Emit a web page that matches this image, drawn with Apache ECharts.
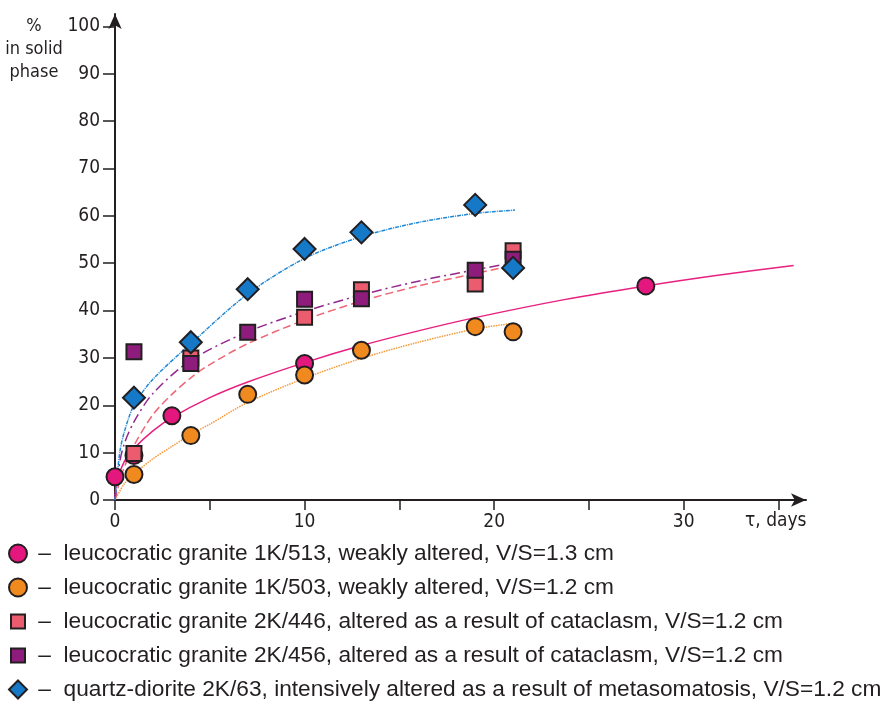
<!DOCTYPE html>
<html>
<head>
<meta charset="utf-8">
<script src="https://cdn.jsdelivr.net/npm/echarts@6.0.0/dist/echarts.min.js"></script>
<style>
  html, body { margin: 0; padding: 0; background: #fff; }
  #chart { width: 890px; height: 703px; }
</style>
</head>
<body>
<div id="chart"></div>
<script>
// measured points (days, % in solid phase)
const names = [
  "leucocratic granite 1K/513, weakly altered, V/S=1.3 cm",
  "leucocratic granite 1K/503, weakly altered, V/S=1.2 cm",
  "leucocratic granite 2K/446, altered as a result of cataclasm, V/S=1.2 cm",
  "leucocratic granite 2K/456, altered as a result of cataclasm, V/S=1.2 cm",
  "quartz-diorite 2K/63, intensively altered as a result of metasomatosis, V/S=1.2 cm",
];
const days513 = [0, 1, 3, 10, 28];
const pct513 = [4.9, 9.4, 17.8, 28.8, 45.2];
const days503 = [1, 4, 7, 10, 13, 19, 21];
const pct503 = [5.4, 13.6, 22.3, 26.4, 31.6, 36.6, 35.5];
const days446 = [1, 4, 10, 13, 19, 21];
const pct446 = [9.8, 30.0, 38.6, 44.4, 45.6, 52.6];
const days456 = [1, 4, 7, 10, 13, 19, 21];
const pct456 = [31.3, 28.8, 35.4, 42.4, 42.5, 48.5, 50.8];
const days63 = [1, 4, 7, 10, 13, 19, 21];
const pct63 = [21.6, 33.3, 44.5, 53.0, 56.5, 62.3, 49.0];

// fitted curves
const fit513 = [[0, 0], [0.1, 4], [0.5, 8.2], [1, 10.9], [2, 14.6], [3, 17.4], [5, 21.6], [7, 24.9], [10, 29], [13, 32.6], [16, 35.7], [19, 38.5], [23.7, 42.3], [28, 45.2], [31.9, 47.5], [35.8, 49.5]];
const fit503 = [[0, 0], [0.5, 3.5], [1, 5.5], [2, 8.7], [3, 11.3], [4, 13.8], [5, 16.0], [7, 20.6], [10, 25.7], [13, 29.9], [16, 33.3], [19, 36.1], [21, 37.3]];
const fit446 = [[0, 0], [0.25, 4], [0.5, 7], [1, 11.5], [2, 18], [3, 22.3], [4, 25.8], [5, 28.6], [7, 33], [10, 38], [13, 42], [16, 45.2], [19, 47.8], [20.6, 49.2]];
const fit456 = [[0, 0], [0.25, 8], [0.5, 12], [1, 16.5], [2, 22.5], [4, 29.5], [7, 35.5], [10, 39.8], [13, 43.3], [16, 46.2], [19, 48.6], [20.5, 49.7]];
const fit63 = [[0, 0], [0.25, 10], [0.5, 14.5], [1, 20], [2, 25.5], [4, 33], [7, 43.5], [10, 51], [13, 55.6], [16, 58.6], [19, 60.5], [21.1, 61.2]];

const xTicks = [0, 5, 10, 15, 20, 25, 30, 35];
const xLabels = [0, 10, 20, 30];
const yTicks = [0, 10, 20, 30, 40, 50, 60, 70, 80, 90, 100];

const ink = "#231f20";
const axisFont = "'DejaVu Sans Condensed', 'Liberation Sans', sans-serif";

const pairs = (xs, ys) => xs.map((x, i) => [x, ys[i]]);

const markerStyle = (color) => ({ color: color, borderColor: ink, borderWidth: 2, opacity: 1 });

const fitLine = (data, color, type) => ({
  type: "line",
  data: data,
  smooth: 0.3,
  showSymbol: false,
  silent: true,
  z: 1,
  lineStyle: { color: color, width: 1.5, type: type },
});

const chart = echarts.init(document.getElementById("chart"));

const options = {
  animation: false,
  grid: {
    left: 115,
    right: 84,
    top: 14,
    bottom: 203,
    containLabel: false,
    outerBoundsMode: "none",
  },
  legend: {
    orient: "vertical",
    left: 8,
    top: 542,
    height: 161,
    padding: 0,
    itemWidth: 18,
    itemHeight: 18,
    itemGap: 11,
    selectedMode: false,
    data: [
      { name: names[0] },
      { name: names[1] },
      { name: names[2], icon: "path://M0,0M18,18M2,2H16V16H2Z" },
      { name: names[3], icon: "path://M0,0M18,18M2,2H16V16H2Z" },
      { name: names[4] },
    ],
    formatter: (name) => " \u2013  " + name,
    textStyle: {
      fontFamily: "'Liberation Sans', Arial, sans-serif",
      fontSize: 22.7,
      lineHeight: 20,
      color: ink,
    },
  },
  xAxis: {
    type: "value",
    min: 0,
    max: 36.45,
    interval: 5,
    splitLine: { show: false },
    axisLine: {
      onZero: false,
      lineStyle: { color: ink, width: 2 },
      symbol: ["none", "arrow"],
      symbolSize: [10, 15],
    },
    axisTick: {
      inside: false,
      length: 10,
      lineStyle: { color: ink, width: 1.5 },
      customValues: xTicks,
    },
    axisLabel: {
      margin: 13,
      color: ink,
      fontFamily: axisFont,
      fontSize: 19,
      customValues: xLabels,
      formatter: (v) => (v % 10 === 0 ? String(v) : ""),
    },
  },
  yAxis: {
    type: "value",
    min: 0,
    max: 102.6,
    interval: 10,
    splitLine: { show: false },
    axisLine: {
      onZero: false,
      lineStyle: { color: ink, width: 2 },
      symbol: ["none", "arrow"],
      symbolSize: [10, 15],
    },
    axisTick: {
      length: 12,
      lineStyle: { color: ink, width: 1.5 },
      customValues: yTicks,
    },
    axisLabel: {
      margin: 15,
      color: ink,
      fontFamily: axisFont,
      fontSize: 19,
      customValues: yTicks,
      formatter: (v) => (v <= 100 ? String(v) : ""),
    },
  },
  graphic: [
    {
      type: "text",
      x: 34,
      y: 15,
      style: {
        text: "%\nin solid\nphase",
        font: "18px " + axisFont,
        fill: ink,
        align: "center",
        textAlign: "center",
        lineHeight: 23,
      },
    },
    {
      type: "text",
      x: 745,
      y: 512,
      style: {
        text: "\u03c4, days",
        font: "19px " + axisFont,
        fill: ink,
      },
    },
  ],
  series: [
    fitLine(fit513, "#e8207f", "solid"),
    fitLine(fit503, "#f39a3a", [1.5, 1]),
    fitLine(fit446, "#ef6675", [8, 4]),
    fitLine(fit456, "#93278f", [10, 4, 2, 4]),
    fitLine(fit63, "#1e88d8", [4, 1, 1, 1]),
    {
      name: names[0],
      type: "scatter",
      data: pairs(days513, pct513),
      symbol: "circle",
      symbolSize: 17,
      itemStyle: markerStyle("#e4177e"),
      z: 3,
    },
    {
      name: names[1],
      type: "scatter",
      data: pairs(days503, pct503),
      symbol: "circle",
      symbolSize: 17,
      itemStyle: markerStyle("#f18a1e"),
      z: 3,
    },
    {
      name: names[2],
      type: "scatter",
      data: pairs(days446, pct446),
      symbol: "rect",
      symbolSize: 15,
      itemStyle: markerStyle("#eb5d6e"),
      z: 3,
    },
    {
      name: names[3],
      type: "scatter",
      data: pairs(days456, pct456),
      symbol: "rect",
      symbolSize: 15,
      itemStyle: markerStyle("#8d1c7c"),
      z: 3,
    },
    {
      name: names[4],
      type: "scatter",
      data: pairs(days63, pct63),
      symbol: "diamond",
      symbolSize: 22,
      itemStyle: markerStyle("#1579c8"),
      z: 3,
    },
  ],
};

chart.setOption(options);

window.addEventListener("resize", () => {
  chart.resize();
});
</script>
</body>
</html>
